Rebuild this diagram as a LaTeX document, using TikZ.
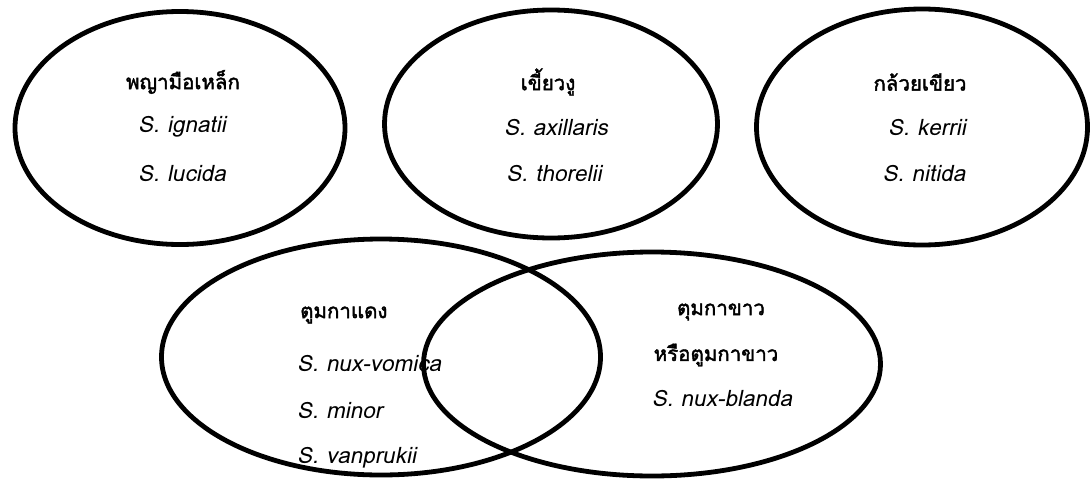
\documentclass[tikz,border=0pt]{standalone}
\usepackage{fontspec}
\setmainfont{Loma}[Script=Thai, AutoFakeSlant=0.2, AutoFakeBold=2]
\usetikzlibrary{shapes.geometric}
\tikzset{
  ring/.style={ellipse, draw=black, line width=4.8pt, inner sep=0pt},
  ttl/.style={font=\fontsize{20.5}{24}\selectfont\bfseries, inner sep=0pt},
  sp/.style={font=\fontsize{22.5}{26}\selectfont\itshape, inner sep=0pt},
}
\begin{document}
\begin{tikzpicture}[x=1pt,y=-1pt]
\useasboundingbox[fill=white] (0,0) rectangle (1091,479);
% ellipses
\node[ring, minimum width=330pt, minimum height=233pt] (e1) at (180,128) {};
\node[ring, minimum width=333pt, minimum height=228pt] (e2) at (551,124) {};
\node[ring, minimum width=331pt, minimum height=236pt] (e3) at (922,127) {};
\node[ring, minimum width=439pt, minimum height=236pt] (e4) at (381,357) {};
\node[ring, minimum width=457pt, minimum height=224pt] (e5) at (652,364) {};
% texts ellipse 1
\node[ttl] (t1) at (183,82) {พญามือเหล็ก};
\node[sp] (s1a) at (182,127) {S. ignatii};
\node[sp] (s1b) at (182,173) {S. lucida};
% ellipse 2
\node[ttl] (t2) at (548,82) {เขี้ยวงู};
\node[sp] (s2a) at (556,127) {S. axillaris};
\node[sp] (s2b) at (554,173) {S. thorelii};
% ellipse 3
\node[ttl] (t3) at (920,82) {กล้วยเขียว};
\node[sp] (s3a) at (927,127) {S. kerrii};
\node[sp] (s3b) at (924,173) {S. nitida};
% ellipse 4
\node[ttl, anchor=west] (t4) at (300,315) {ตูมกาแดง};
\node[sp, anchor=west] (s4a) at (297,363) {S. nux-vomica};
\node[sp, anchor=west] (s4b) at (297,410) {S. minor};
\node[sp, anchor=west] (s4c) at (297,458) {S. vanprukii};
% ellipse 5
\node[ttl] (t5) at (721,312) {ตุมกาขาว};
\node[ttl] (t5b) at (716,355) {หรือตูมกาขาว};
\node[sp] (s5a) at (722,398) {S. nux-blanda};
\end{tikzpicture}
\end{document}
